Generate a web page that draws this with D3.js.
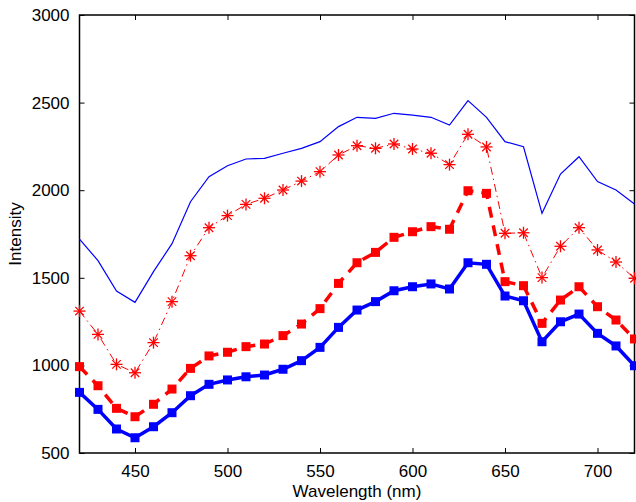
<!DOCTYPE html>
<html>
<head>
<meta charset="utf-8">
<script src="https://cdn.jsdelivr.net/npm/d3@7"></script>
<style>
  body { margin: 0; background: #fff; }
  text { font-family: "Liberation Sans", Arial, sans-serif; }
</style>
</head>
<body>
<div class="content"></div>
<script>
// Wavelength samples (nm)
var wavelengths = [420, 430, 440, 450, 460, 470, 480, 490, 500, 510, 520, 530, 540, 550, 560, 570,
                   580, 590, 600, 610, 620, 630, 640, 650, 660, 670, 680, 690, 700, 710, 720];

// thin blue line, no markers
var blueThin = [1721, 1598, 1425, 1360, 1535, 1695, 1934, 2077, 2140, 2178, 2182, 2211, 2239, 2277, 2363, 2416,
                2410, 2439, 2429, 2416, 2372, 2511, 2416, 2277, 2248, 1868, 2092, 2191, 2049, 2001, 1921];

// red dash-dot with asterisks
var redStar = [1310, 1177, 1006, 958, 1130, 1364, 1626, 1786, 1855, 1919, 1954, 2001, 2052, 2106, 2201, 2254,
               2239, 2264, 2235, 2211, 2146, 2319, 2247, 1754, 1757, 1501, 1680, 1786, 1659, 1590, 1497];

// red thick dashed with squares
var redSquare = [993, 884, 755, 707, 778, 865, 983, 1054, 1075, 1107, 1122, 1170, 1236, 1324, 1468, 1586,
                 1645, 1731, 1763, 1792, 1777, 1997, 1982, 1478, 1455, 1240, 1373, 1449, 1335, 1259, 1151];

// blue thick solid with squares
var blueSquare = [846, 749, 637, 587, 650, 730, 827, 892, 917, 935, 945, 978, 1027, 1103, 1217, 1316,
                  1364, 1426, 1449, 1465, 1436, 1586, 1577, 1396, 1369, 1135, 1249, 1293, 1183, 1111, 998];

var xTicks = [450, 500, 550, 600, 650, 700];
var yTicks = [500, 1000, 1500, 2000, 2500, 3000];

var margin = {top: 15, right: 1.5, bottom: 49, left: 79.5},
    width = 636 - margin.left - margin.right,
    height = 502 - margin.top - margin.bottom;

var svg = d3.select(".content").append("svg")
    .attr("width", 636)
    .attr("height", 502)
  .append("g")
    .attr("transform", "translate(" + margin.left + "," + margin.top + ")");

var x = d3.scaleLinear().domain([420, 720]).range([0, width]);
var y = d3.scaleLinear().domain([500, 3000]).range([height, 0]);

// axes, ticks pointing inward (matlab style box)
var tickLen = 5;
function styleAxis(g) {
  g.select(".domain").remove();
  g.selectAll(".tick line").attr("stroke", "#000").attr("stroke-width", 1);
  g.selectAll(".tick text").style("font-size", "17px").attr("fill", "#000");
}

svg.append("g")
    .attr("transform", "translate(0," + height + ")")
    .call(d3.axisBottom(x).tickValues(xTicks).tickSizeInner(-tickLen).tickSizeOuter(0)
      .tickPadding(12).tickFormat(d3.format("d")))
    .call(styleAxis);

svg.append("g")
    .call(d3.axisTop(x).tickValues(xTicks).tickSizeInner(-tickLen).tickSizeOuter(0).tickFormat(""))
    .call(styleAxis);

svg.append("g")
    .call(d3.axisLeft(y).tickValues(yTicks).tickSizeInner(-tickLen).tickSizeOuter(0)
      .tickPadding(10).tickFormat(d3.format("d")))
    .call(styleAxis);

svg.append("g")
    .attr("transform", "translate(" + width + ",0)")
    .call(d3.axisRight(y).tickValues(yTicks).tickSizeInner(-tickLen).tickSizeOuter(0).tickFormat(""))
    .call(styleAxis);

// box
svg.append("rect")
    .attr("width", width)
    .attr("height", height)
    .attr("fill", "none")
    .attr("stroke", "#000")
    .attr("stroke-width", 1.5);

var line = d3.line()
    .x(function(d) { return x(d.w) })
    .y(function(d) { return y(d.v) });

function pts(vals) {
  return wavelengths.map(function(w, i) { return {w: w, v: vals[i]}; });
}

var plot = svg.append("g");

// thin blue
plot.append("path")
    .attr("d", line(pts(blueThin)))
    .attr("fill", "none")
    .attr("stroke", "#0000ff")
    .attr("stroke-width", 1.2);

// red dash-dot + asterisks
plot.append("path")
    .attr("d", line(pts(redStar)))
    .attr("fill", "none")
    .attr("stroke", "#ff0000")
    .attr("stroke-width", 1)
    .attr("stroke-dasharray", "8,4,1.5,4");

plot.selectAll(".star")
    .data(pts(redStar))
    .enter()
    .append("g")
      .attr("class", "star")
      .attr("transform", function(d) { return "translate(" + x(d.w) + "," + y(d.v) + ")"; })
      .each(function() {
        var g = d3.select(this), r = 6;
        for (var k = 0; k < 4; k++) {
          var a = k * Math.PI / 4;
          g.append("line")
            .attr("x1", -r * Math.cos(a)).attr("y1", -r * Math.sin(a))
            .attr("x2", r * Math.cos(a)).attr("y2", r * Math.sin(a))
            .attr("stroke", "#ff0000")
            .attr("stroke-width", 1.3);
        }
      });

// red dashed thick + squares
plot.append("path")
    .attr("d", line(pts(redSquare)))
    .attr("fill", "none")
    .attr("stroke", "#ff0000")
    .attr("stroke-width", 3.5)
    .attr("stroke-dasharray", "11,8");

plot.selectAll(".rsq")
    .data(pts(redSquare))
    .enter()
    .append("rect")
      .attr("class", "rsq")
      .attr("x", function(d) { return x(d.w) - 4.5 })
      .attr("y", function(d) { return y(d.v) - 4.5 })
      .attr("width", 9)
      .attr("height", 9)
      .attr("fill", "#ff0000");

// blue solid thick + squares
plot.append("path")
    .attr("d", line(pts(blueSquare)))
    .attr("fill", "none")
    .attr("stroke", "#0000ff")
    .attr("stroke-width", 3.5);

plot.selectAll(".bsq")
    .data(pts(blueSquare))
    .enter()
    .append("rect")
      .attr("class", "bsq")
      .attr("x", function(d) { return x(d.w) - 4.5 })
      .attr("y", function(d) { return y(d.v) - 4.5 })
      .attr("width", 9)
      .attr("height", 9)
      .attr("fill", "#0000ff");

// axis labels
svg.append("text")
    .attr("x", width / 2)
    .attr("y", height + 44)
    .attr("text-anchor", "middle")
    .style("font-size", "17px")
    .text("Wavelength (nm)");

svg.append("text")
    .attr("transform", "translate(" + (-59) + "," + (height / 2) + ") rotate(-90)")
    .attr("text-anchor", "middle")
    .style("font-size", "17px")
    .text("Intensity");
</script>
</body>
</html>
